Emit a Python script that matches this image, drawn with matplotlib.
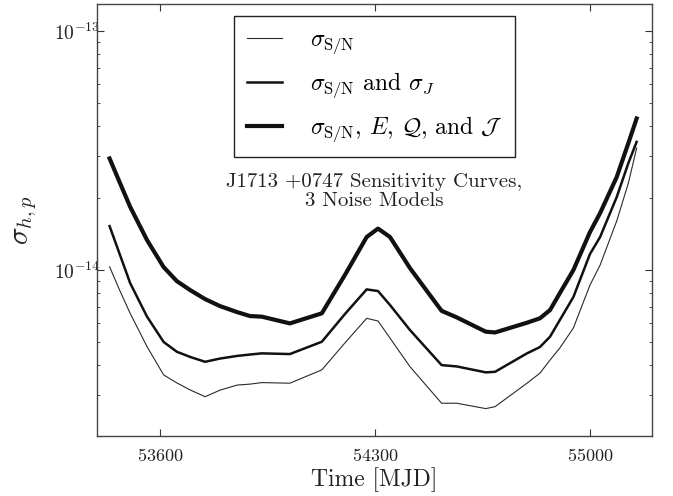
import matplotlib
matplotlib.use("Agg")
import matplotlib.pyplot as plt
from matplotlib.ticker import LogLocator, FixedLocator, NullFormatter, LogFormatterMathtext

plt.rcParams['font.family'] = ['cmr10', 'DejaVu Serif']
plt.rcParams['mathtext.fontset'] = 'cm'
plt.rcParams['axes.formatter.use_mathtext'] = True

# Time (MJD)
mjd = [53436, 53470, 53503, 53558, 53612, 53655, 53698, 53747, 53795, 53851,
       53893, 53932, 54023, 54127, 54202, 54273, 54310, 54349, 54414, 54517,
       54566, 54661, 54691, 54795, 54837, 54870, 54902, 54946, 55000, 55033,
       55087, 55125, 55152]

# sensitivities in units of 1e-15
sig_sn = [10.32, 8.17, 6.59, 4.78, 3.64, 3.37, 3.15, 2.95, 3.14, 3.30,
          3.33, 3.38, 3.36, 3.82, 4.95, 6.28, 6.12, 5.19, 3.94, 2.77,
          2.77, 2.63, 2.68, 3.36, 3.70, 4.20, 4.72, 5.72, 8.65, 10.49,
          16.03, 23.12, 32.40]
sig_sn_j = [15.28, 11.56, 8.82, 6.38, 5.00, 4.55, 4.33, 4.13, 4.26, 4.37,
            4.43, 4.48, 4.45, 5.01, 6.54, 8.30, 8.17, 7.14, 5.61, 4.00,
            3.95, 3.73, 3.75, 4.48, 4.76, 5.26, 6.18, 7.71, 11.67, 13.75,
            20.20, 28.04, 34.42]
sig_full = [29.34, 23.12, 18.40, 13.35, 10.29, 8.99, 8.25, 7.56, 7.07, 6.67,
            6.42, 6.38, 5.98, 6.59, 9.53, 13.75, 14.92, 13.75, 10.19, 6.75,
            6.34, 5.52, 5.48, 6.02, 6.28, 6.80, 8.01, 10.00, 14.42, 17.32,
            24.50, 34.00, 43.12]

labels = [r'$\sigma_{\rm S/N}$',
          r'$\sigma_{\rm S/N}$ and $\sigma_J$',
          r'$\sigma_{\rm S/N}$, $E$, $\mathcal{Q}$, and $\mathcal{J}$']
xticks = [53600, 54300, 55000]

fig = plt.figure(figsize=(6.73, 4.96), dpi=100)
ax = fig.add_axes([0.1441, 0.121, 0.8247, 0.8709])

scale = 1e-15
ax.plot(mjd, [v * scale for v in sig_sn], color='#2a2a2a', lw=0.8, label=labels[0])
ax.plot(mjd, [v * scale for v in sig_sn_j], color='#111111', lw=1.8, label=labels[1])
ax.plot(mjd, [v * scale for v in sig_full], color='#111111', lw=3.0, label=labels[2])

ax.set_yscale('log')
ax.set_xlim(53395, 55202)
ax.set_ylim(2.02e-15, 1.30e-13)
ax.xaxis.set_major_locator(FixedLocator(xticks))
ax.yaxis.set_major_locator(LogLocator(base=10))
ax.yaxis.set_major_formatter(LogFormatterMathtext())
ax.yaxis.set_minor_locator(LogLocator(base=10, subs=range(2, 10)))
ax.yaxis.set_minor_formatter(NullFormatter())

ax.tick_params(which='both', direction='in', top=True, right=True, colors='#333333',
               labelcolor='#222222', labelsize=13)
ax.tick_params(which='major', length=5, width=0.8)
ax.tick_params(axis='x', which='major', pad=8)
ax.tick_params(axis='y', which='major', pad=-2.5, labelsize=14)
ax.tick_params(which='minor', length=2.5, width=0.6)
for s in ax.spines.values():
    s.set_linewidth(1.0)
    s.set_color('#444444')

ax.set_xlabel('Time [MJD]', fontsize=17, color='#222222', labelpad=2)
ax.set_ylabel(r'$\sigma_{h,p}$', fontsize=21, color='#222222', labelpad=11)

leg = ax.legend(loc='upper center', bbox_to_anchor=(0.5, 0.972), fontsize=17,
                frameon=True, fancybox=False, framealpha=1, edgecolor='#222222',
                handlelength=1.5, handletextpad=1.15, labelspacing=0.6,
                borderpad=0.55, borderaxespad=0)
leg.get_frame().set_linewidth(1.0)

ax.text(0.5, 0.566, 'J1713 +0747 Sensitivity Curves,\n3 Noise Models',
        transform=ax.transAxes, ha='center', va='center', fontsize=15,
        color='#222222', linespacing=1.05)

fig.savefig('out.png', dpi=100)
